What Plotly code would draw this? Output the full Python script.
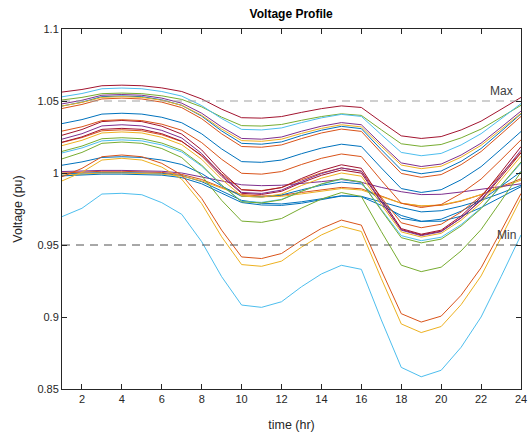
import plotly.graph_objects as go

hours = list(range(1, 25))
x_ticks = [2, 4, 6, 8, 10, 12, 14, 16, 18, 20, 22, 24]
y_ticks = [0.85, 0.9, 0.95, 1.0, 1.05, 1.1]
y_tick_labels = ["0.85", "0.9", "0.95", "1", "1.05", "1.1"]
v_max = 1.05
v_min = 0.95

v01 = [1.0562, 1.0580, 1.0606, 1.0610, 1.0606, 1.0591, 1.0566, 1.0514, 1.0443, 1.0384, 1.0381, 1.0392, 1.0421, 1.0447, 1.0466, 1.0455, 1.0355, 1.0258, 1.0240, 1.0253, 1.0299, 1.0360, 1.0442, 1.0525]
v02 = [1.0529, 1.0552, 1.0585, 1.0590, 1.0585, 1.0566, 1.0534, 1.0468, 1.0378, 1.0303, 1.0299, 1.0313, 1.0350, 1.0383, 1.0407, 1.0393, 1.0266, 1.0143, 1.0120, 1.0136, 1.0195, 1.0273, 1.0376, 1.0482]
v03 = [1.0507, 1.0525, 1.0551, 1.0555, 1.0551, 1.0536, 1.0511, 1.0459, 1.0388, 1.0329, 1.0326, 1.0337, 1.0366, 1.0392, 1.0411, 1.0400, 1.0300, 1.0203, 1.0185, 1.0198, 1.0244, 1.0305, 1.0387, 1.0470]
v04 = [1.0480, 1.0505, 1.0540, 1.0545, 1.0540, 1.0520, 1.0485, 1.0415, 1.0320, 1.0240, 1.0235, 1.0250, 1.0290, 1.0325, 1.0350, 1.0335, 1.0200, 1.0070, 1.0045, 1.0062, 1.0125, 1.0207, 1.0317, 1.0430]
v05 = [1.0465, 1.0490, 1.0525, 1.0530, 1.0525, 1.0505, 1.0470, 1.0400, 1.0305, 1.0225, 1.0220, 1.0235, 1.0275, 1.0310, 1.0335, 1.0320, 1.0185, 1.0055, 1.0030, 1.0047, 1.0110, 1.0192, 1.0302, 1.0415]
v06 = [1.0465, 1.0492, 1.0530, 1.0535, 1.0530, 1.0508, 1.0470, 1.0395, 1.0292, 1.0206, 1.0200, 1.0216, 1.0260, 1.0297, 1.0324, 1.0308, 1.0162, 1.0022, 0.9995, 1.0014, 1.0081, 1.0170, 1.0289, 1.0411]
v07 = [1.0448, 1.0476, 1.0514, 1.0520, 1.0514, 1.0492, 1.0454, 1.0377, 1.0272, 1.0184, 1.0179, 1.0195, 1.0239, 1.0278, 1.0305, 1.0289, 1.0140, 0.9997, 0.9970, 0.9989, 1.0058, 1.0149, 1.0270, 1.0393]
v08 = [1.0343, 1.0371, 1.0409, 1.0415, 1.0409, 1.0387, 1.0349, 1.0272, 1.0167, 1.0079, 1.0074, 1.0090, 1.0134, 1.0173, 1.0200, 1.0184, 1.0035, 0.9892, 0.9865, 0.9884, 0.9953, 1.0044, 1.0165, 1.0288]
v09 = [1.0291, 1.0321, 1.0364, 1.0370, 1.0364, 1.0339, 1.0297, 1.0211, 1.0095, 0.9998, 0.9992, 1.0010, 1.0059, 1.0102, 1.0132, 1.0114, 0.9949, 0.9790, 0.9760, 0.9781, 0.9858, 0.9958, 1.0092, 1.0230]
v10 = [1.0262, 1.0302, 1.0357, 1.0365, 1.0357, 1.0325, 1.0270, 1.0160, 1.0009, 0.9883, 0.9875, 0.9899, 0.9962, 1.0017, 1.0057, 1.0033, 0.9820, 0.9614, 0.9575, 0.9603, 0.9701, 0.9832, 1.0006, 1.0183]
v11 = [1.0235, 1.0273, 1.0327, 1.0335, 1.0327, 1.0296, 1.0243, 1.0135, 0.9988, 0.9865, 0.9858, 0.9881, 0.9942, 0.9996, 1.0035, 1.0012, 0.9804, 0.9603, 0.9565, 0.9592, 0.9688, 0.9815, 0.9985, 1.0158]
v12 = [1.0214, 1.0251, 1.0303, 1.0310, 1.0303, 1.0273, 1.0221, 1.0118, 0.9977, 0.9859, 0.9851, 0.9873, 0.9933, 0.9984, 1.0021, 0.9999, 0.9799, 0.9607, 0.9570, 0.9596, 0.9688, 0.9810, 0.9973, 1.0140]
v13 = [1.0190, 1.0227, 1.0278, 1.0285, 1.0278, 1.0248, 1.0197, 1.0095, 0.9956, 0.9840, 0.9832, 0.9854, 0.9913, 0.9964, 1.0000, 0.9978, 0.9781, 0.9591, 0.9555, 0.9581, 0.9672, 0.9792, 0.9953, 1.0117]
v14 = [1.0150, 1.0187, 1.0238, 1.0245, 1.0238, 1.0208, 1.0157, 1.0055, 0.9916, 0.9800, 0.9792, 0.9814, 0.9873, 0.9924, 0.9960, 0.9938, 0.9741, 0.9551, 0.9515, 0.9541, 0.9632, 0.9752, 0.9913, 1.0077]
v15 = [1.0139, 1.0174, 1.0223, 1.0230, 1.0223, 1.0195, 1.0146, 1.0048, 0.9915, 0.9803, 0.9796, 0.9817, 0.9873, 0.9922, 0.9957, 0.9936, 0.9747, 0.9565, 0.9530, 0.9554, 0.9642, 0.9757, 0.9911, 1.0069]
v16 = [1.0098, 1.0143, 1.0206, 1.0215, 1.0206, 1.0170, 1.0107, 0.9981, 0.9810, 0.9666, 0.9657, 0.9684, 0.9756, 0.9819, 0.9864, 0.9837, 0.9594, 0.9360, 0.9315, 0.9346, 0.9459, 0.9607, 0.9805, 1.0008]
v17 = [0.9974, 1.0032, 1.0113, 1.0125, 1.0113, 1.0067, 0.9986, 0.9823, 0.9603, 0.9417, 0.9406, 0.9441, 0.9533, 0.9615, 0.9673, 0.9638, 0.9325, 0.9023, 0.8965, 0.9006, 0.9151, 0.9342, 0.9597, 0.9858]
v18 = [0.9945, 1.0005, 1.0090, 1.0102, 1.0090, 1.0041, 0.9957, 0.9787, 0.9557, 0.9364, 0.9352, 0.9388, 0.9485, 0.9570, 0.9630, 0.9594, 0.9267, 0.8952, 0.8892, 0.8934, 0.9086, 0.9285, 0.9551, 0.9824]
v19 = [0.9697, 0.9755, 0.9854, 0.9859, 0.9849, 0.9794, 0.9713, 0.9523, 0.9280, 0.9083, 0.9067, 0.9106, 0.9210, 0.9299, 0.9359, 0.9331, 0.8980, 0.8650, 0.8585, 0.8630, 0.8790, 0.9000, 0.9280, 0.9570]
v20 = [1.0054, 1.0077, 1.0108, 1.0113, 1.0108, 1.0090, 1.0059, 0.9996, 0.9910, 0.9838, 0.9834, 0.9847, 0.9883, 0.9915, 0.9937, 0.9924, 0.9802, 0.9685, 0.9663, 0.9679, 0.9735, 0.9809, 0.9908, 1.0009]
v21 = [1.0212, 1.0246, 1.0293, 1.0300, 1.0293, 1.0266, 1.0218, 1.0123, 0.9994, 0.9885, 0.9878, 0.9899, 0.9953, 1.0001, 1.0035, 1.0014, 0.9831, 0.9654, 0.9620, 0.9644, 0.9729, 0.9841, 0.9991, 1.0144]
v22 = [1.0010, 1.0015, 1.0018, 1.0018, 1.0016, 1.0012, 1.0000, 0.9975, 0.9945, 0.9918, 0.9912, 0.9915, 0.9925, 0.9940, 0.9955, 0.9935, 0.9900, 0.9870, 0.9850, 0.9852, 0.9868, 0.9888, 0.9905, 0.9925]
v23 = [0.9995, 1.0000, 1.0003, 1.0003, 1.0002, 0.9998, 0.9982, 0.9940, 0.9875, 0.9810, 0.9790, 0.9785, 0.9800, 0.9822, 0.9842, 0.9835, 0.9775, 0.9705, 0.9665, 0.9665, 0.9700, 0.9760, 0.9830, 0.9905]
v24 = [0.9980, 0.9988, 0.9992, 0.9992, 0.9990, 0.9985, 0.9968, 0.9925, 0.9860, 0.9795, 0.9778, 0.9775, 0.9790, 0.9815, 0.9840, 0.9838, 0.9800, 0.9760, 0.9730, 0.9738, 0.9770, 0.9810, 0.9860, 0.9915]
v25 = [1.0000, 1.0008, 1.0012, 1.0012, 1.0010, 1.0004, 0.9990, 0.9955, 0.9900, 0.9850, 0.9840, 0.9845, 0.9865, 0.9885, 0.9900, 0.9890, 0.9840, 0.9790, 0.9770, 0.9775, 0.9805, 0.9850, 0.9905, 0.9960]
v26 = [0.9985, 0.9995, 1.0000, 1.0000, 0.9998, 0.9992, 0.9978, 0.9945, 0.9895, 0.9845, 0.9835, 0.9838, 0.9855, 0.9875, 0.9892, 0.9882, 0.9835, 0.9790, 0.9772, 0.9778, 0.9808, 0.9850, 0.9900, 0.9950]

BLUE, ORANGE, YELLOW, PURPLE, GREEN, LBLUE, DRED = "#0072BD", "#D95319", "#EDB120", "#7E2F8E", "#77AC30", "#4DBEEE", "#A2142F"

series = [
    (v23, BLUE), (v25, ORANGE), (v26, YELLOW), (v22, PURPLE), (v24, BLUE),
    (v20, BLUE), (v17, ORANGE), (v18, YELLOW), (v16, GREEN), (v19, LBLUE),
    (v21, ORANGE), (v15, LBLUE), (v14, GREEN), (v13, YELLOW), (v12, DRED),
    (v11, PURPLE), (v10, DRED), (v09, ORANGE), (v08, BLUE), (v07, ORANGE),
    (v06, BLUE), (v05, YELLOW), (v04, PURPLE), (v03, GREEN), (v02, LBLUE), (v01, DRED),
]

fig = go.Figure()
for vals, col in series:
    fig.add_trace(go.Scatter(x=hours, y=vals, mode="lines",
                             line=dict(color=col, width=1), showlegend=False,
                             hoverinfo="skip"))

fig.add_trace(go.Scatter(x=[hours[0], hours[-1]], y=[v_max, v_max], mode="lines",
                         line=dict(color="#a0a0a0", width=1.2, dash="8px,6px"),
                         showlegend=False, hoverinfo="skip"))
fig.add_trace(go.Scatter(x=[hours[0], hours[-1]], y=[v_min, v_min], mode="lines",
                         line=dict(color="#505050", width=1, dash="8px,6px"),
                         showlegend=False, hoverinfo="skip"))

fig.add_annotation(x=23.7, y=v_max, text="Max", showarrow=False, xanchor="right",
                   yanchor="bottom", yshift=1, font=dict(size=12, color="#404040"))
fig.add_annotation(x=23.85, y=v_min, text="Min", showarrow=False, xanchor="right",
                   yanchor="bottom", yshift=1, font=dict(size=12, color="#404040"))

axis_common = dict(showline=True, linecolor="#262626", linewidth=1, mirror="ticks",
                   ticks="inside", ticklen=5, tickcolor="#262626", showgrid=False,
                   zeroline=False, automargin=False,
                   tickfont=dict(size=11, color="#262626"))

fig.update_layout(
    width=528, height=436,
    margin=dict(l=62, r=7, t=29, b=47),
    paper_bgcolor="white", plot_bgcolor="white",
    font=dict(family="Liberation Sans, Arial, sans-serif", color="#262626"),
    title=dict(text="<b>Voltage Profile</b>", x=0.5515, xanchor="center", y=0.968,
               yanchor="middle", font=dict(size=12, color="black"),
               automargin=False),
    xaxis=dict(range=[1, 24], tickvals=x_ticks,
               title=dict(text="time (hr)", font=dict(size=12.5), standoff=16),
               **axis_common),
    yaxis=dict(range=[0.85, 1.1], tickvals=y_ticks, ticktext=y_tick_labels,
               title=dict(text="Voltage (pu)", font=dict(size=12.5), standoff=12),
               **axis_common),
)

fig.write_html(
    "out.html",
    config={"displayModeBar": False, "staticPlot": True},
    post_script="document.body.style.margin='0';document.body.style.overflow='hidden';",
)
